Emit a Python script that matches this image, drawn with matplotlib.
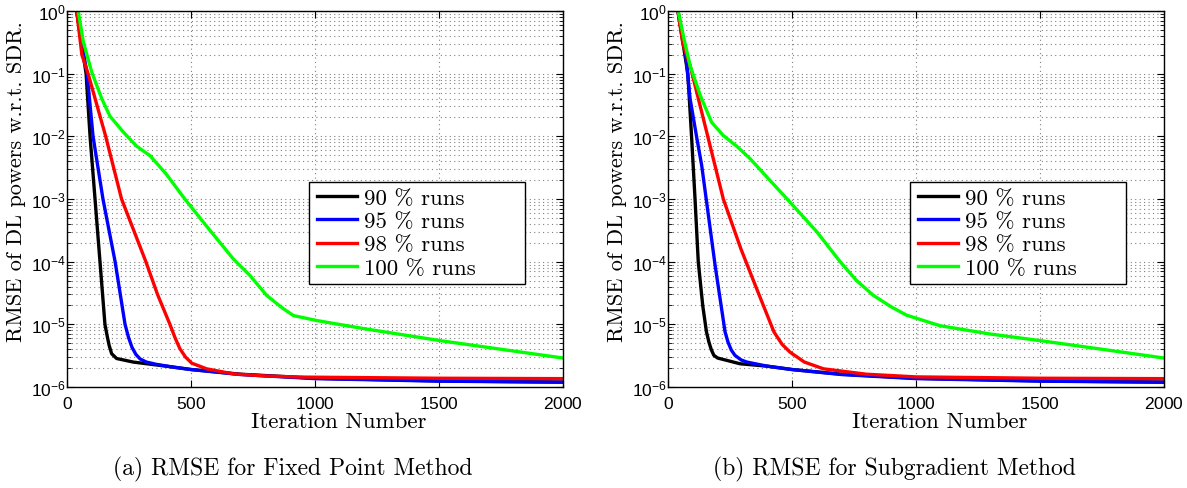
import matplotlib
matplotlib.use('Agg')
import matplotlib.pyplot as plt
from matplotlib.patches import Rectangle

plt.rcParams['font.family'] = ['Liberation Sans', 'DejaVu Sans']
plt.rcParams['axes.formatter.use_mathtext'] = True

labels = ['90 % runs', '95 % runs', '98 % runs', '100 % runs']
colors = ['black', 'blue', 'red', '#00ff00']

# (a) fixed point method
fp_black_x = [39, 77, 93, 113, 133, 153, 162, 170, 180, 200, 267, 400, 500, 700, 1000, 1500, 2000]
fp_black_y = [1.0, 0.1, 1e-2, 1e-3, 1e-4, 1e-5, 6.5e-6, 4.6e-6, 3.4e-6, 2.85e-6, 2.5e-6, 2.15e-6, 1.9e-6, 1.6e-6, 1.38e-6, 1.25e-6, 1.2e-6]
fp_blue_x = [39, 60, 81, 105, 145, 194, 234, 248, 262, 278, 295, 320, 360, 420, 500, 700, 1000, 1500, 2000]
fp_blue_y = [1.0, 0.3, 0.1, 1e-2, 1e-3, 1e-4, 1e-5, 6.2e-6, 4.3e-6, 3.3e-6, 2.8e-6, 2.5e-6, 2.3e-6, 2.1e-6, 1.9e-6, 1.58e-6, 1.36e-6, 1.24e-6, 1.19e-6]
fp_red_x = [39, 60, 85, 156, 220, 318, 365, 415, 435, 455, 478, 503, 563, 670, 800, 940, 1500, 2000]
fp_red_y = [1.0, 0.2, 0.1, 1e-2, 1e-3, 1e-4, 3e-5, 1e-5, 6.2e-6, 4.1e-6, 3.0e-6, 2.4e-6, 1.95e-6, 1.62e-6, 1.5e-6, 1.44e-6, 1.38e-6, 1.36e-6]
fp_green_x = [45, 66, 100, 140, 173, 227, 280, 335, 400, 475, 560, 671, 738, 805, 870, 913, 1007, 1200, 1504, 1750, 2000]
fp_green_y = [1.0, 0.32, 0.105, 0.04, 0.021, 0.0117, 7e-3, 4.9e-3, 2.5e-3, 1e-3, 3.8e-4, 1.1e-4, 6e-5, 2.9e-5, 1.8e-5, 1.38e-5, 1.15e-5, 8.5e-6, 5.5e-6, 4e-6, 2.9e-6]

# (b) subgradient method
sg_black_x = [40, 80, 95, 109, 122, 140, 155, 165, 175, 185, 200, 290, 400, 500, 700, 1000, 1500, 2000]
sg_black_y = [1.0, 0.1, 1e-2, 1e-3, 1e-4, 2e-5, 7.6e-6, 5.2e-6, 3.9e-6, 3.2e-6, 2.9e-6, 2.35e-6, 2.15e-6, 1.9e-6, 1.6e-6, 1.38e-6, 1.25e-6, 1.2e-6]
sg_blue_x = [40, 69, 89, 115, 136, 190, 230, 242, 255, 270, 295, 318, 400, 500, 700, 1000, 1500, 2000]
sg_blue_y = [1.0, 0.25, 0.04, 1e-2, 3.4e-3, 8.7e-5, 7.6e-6, 5.2e-6, 3.9e-6, 3.2e-6, 2.7e-6, 2.5e-6, 2.15e-6, 1.9e-6, 1.58e-6, 1.36e-6, 1.24e-6, 1.19e-6]
sg_red_x = [40, 60, 89, 156, 223, 294, 347, 427, 460, 492, 550, 627, 800, 1000, 1500, 2000]
sg_red_y = [1.0, 0.3, 0.135, 0.0117, 1e-3, 1.6e-4, 4.7e-5, 7.6e-6, 4.8e-6, 3.6e-6, 2.5e-6, 1.95e-6, 1.6e-6, 1.45e-6, 1.38e-6, 1.36e-6]
sg_green_x = [41, 65, 89, 130, 176, 223, 280, 331, 410, 492, 600, 694, 760, 828, 900, 962, 1097, 1300, 1500, 1750, 2000]
sg_green_y = [1.0, 0.35, 0.135, 0.045, 0.0167, 0.0103, 6.8e-3, 4.4e-3, 2e-3, 8.9e-4, 3e-4, 1e-4, 5e-5, 2.9e-5, 1.9e-5, 1.4e-5, 9.5e-6, 7e-6, 5.5e-6, 4e-6, 2.9e-6]

panels = [
    ([(fp_black_x, fp_black_y), (fp_blue_x, fp_blue_y), (fp_red_x, fp_red_y), (fp_green_x, fp_green_y)],
     '(a) RMSE for Fixed Point Method'),
    ([(sg_black_x, sg_black_y), (sg_blue_x, sg_blue_y), (sg_red_x, sg_red_y), (sg_green_x, sg_green_y)],
     '(b) RMSE for Subgradient Method'),
]

W, H = 1187, 489
fig = plt.figure(figsize=(W / 100, H / 100), dpi=100)
lefts = [67, 668]
cap_x = [113, 713]
serif = 'cmr10'
gridkw = dict(ls=(0, (1, 3)), lw=0.8, color='#808080')

for (series, caption), l, cx in zip(panels, lefts, cap_x):
    ax = fig.add_axes([l / W, 1 - 388 / H, 496 / W, 376 / H])
    for (xs, ys), c, lab in zip(series, colors, labels):
        ax.plot(xs, ys, color=c, lw=2.4, label=lab, solid_joinstyle='round')
    ax.set_yscale('log')
    ax.set_xlim(0, 2000)
    ax.set_ylim(1e-6, 1)
    ax.set_xticks([0, 500, 1000, 1500, 2000])
    ax.set_yticks([1e-6, 1e-5, 1e-4, 1e-3, 1e-2, 1e-1, 1])
    ax.tick_params(which='both', direction='in', top=True, right=True, labelsize=12.5)
    ax.tick_params(which='major', length=5)
    ax.tick_params(which='minor', length=3)
    ax.tick_params(axis='x', pad=6)
    ax.tick_params(axis='y', pad=1)
    ax.tick_params(axis='x', which='minor', bottom=False, top=False)
    ax.grid(True, which='major', axis='both', **gridkw)
    ax.grid(True, which='minor', axis='y', **gridkw)
    for s in ax.spines.values():
        s.set_linewidth(1.0)
    ax.set_xlabel('Iteration Number', family=serif, fontsize=16.5, va='top')
    ax.xaxis.set_label_coords(0.548, -0.064)
    ax.set_ylabel('RMSE of DL powers w.r.t. SDR.', family=serif, fontsize=16)
    ax.yaxis.set_label_coords(-0.082, 0.548)
    # legend box drawn by hand to get the wide matlab-style frame
    ax.add_patch(Rectangle((0.488, 0.274), 0.435, 0.271, transform=ax.transAxes,
                           facecolor='white', edgecolor='black', lw=1.0, zorder=4))
    ax.legend(loc='center left', bbox_to_anchor=(0.504, 0.41), prop={'family': serif, 'size': 16.5},
              frameon=False, handlelength=1.75, handletextpad=0.3, labelspacing=0.15,
              borderpad=0, borderaxespad=0).set_zorder(5)
    fig.text(cx / W, 1 - 475 / H, caption, family=serif, fontsize=17, ha='left', va='baseline')

fig.savefig('out.png', dpi=100)
